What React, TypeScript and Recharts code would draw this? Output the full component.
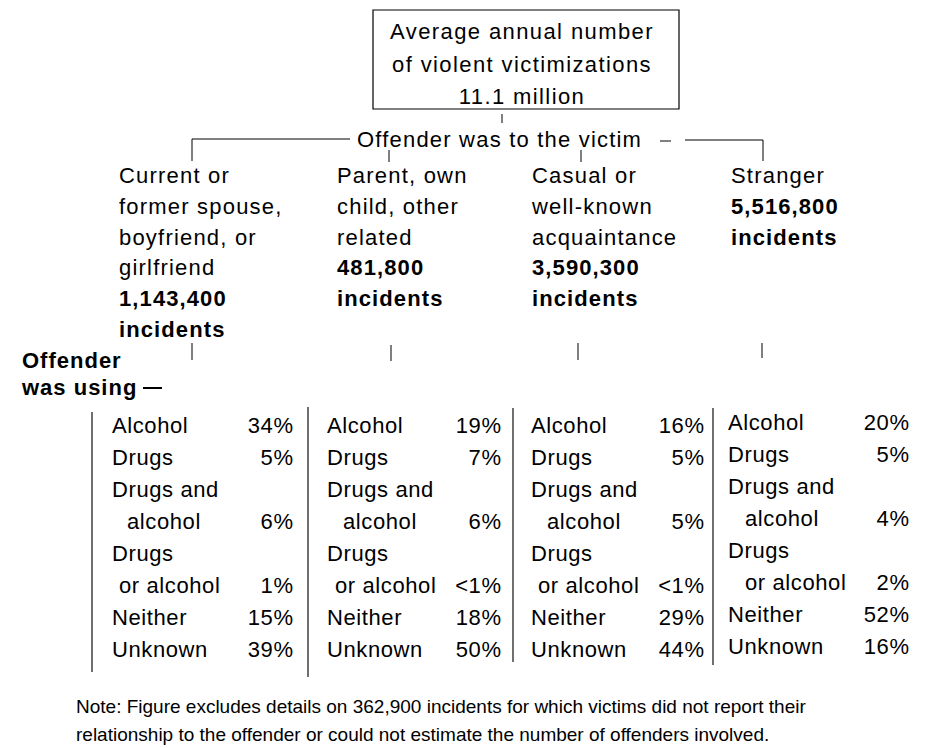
import React from 'react';
import {
  ComposedChart,
  ReferenceArea,
  ReferenceLine,
  Scatter,
  XAxis,
  YAxis,
} from 'recharts';

// ---- content ----
const rootLines = ['Average annual number', 'of violent victimizations', '11.1 million'];
const relationHeading = 'Offender was to the victim';
const relationships = [
  ['Current or', 'former spouse,', 'boyfriend, or', 'girlfriend'],
  ['Parent, own', 'child, other', 'related'],
  ['Casual or', 'well-known', 'acquaintance'],
  ['Stranger'],
];
const incidents = [1143400, 481800, 3590300, 5516800];
const usingHeading = ['Offender', 'was using'];
const substances = [['Alcohol'], ['Drugs'], ['Drugs and', 'alcohol'], ['Drugs', 'or alcohol'], ['Neither'], ['Unknown']];
const spousePct = ['34%', '5%', '6%', '1%', '15%', '39%'];
const relativePct = ['19%', '7%', '6%', '<1%', '18%', '50%'];
const acquaintancePct = ['16%', '5%', '5%', '<1%', '29%', '44%'];
const strangerPct = ['20%', '5%', '4%', '2%', '52%', '16%'];
const noteLines = [
  'Note: Figure excludes details on 362,900 incidents for which victims did not report their',
  'relationship to the offender or could not estimate the number of offenders involved.',
];

// ---- layout ----
const W = 938;
const H = 748;
const FONT = '"Liberation Sans", Arial, sans-serif';
const headX = [119, 337, 532, 731];
const headTop = 183;
const headStep = 30.8;
const tableLabelX = [112, 327, 531, 728];
const tablePctX = [293, 501, 704, 909];
const tableTop = [433, 433, 433, 430];
const tableStep = 32;
const indents = [
  [15, 7],
  [16, 8],
  [16, 7],
  [17, 17],
];
const connectors: [number, number, number, number][] = [
  [502, 114, 502, 123],
  [192, 139, 350, 139],
  [192, 139, 192, 161],
  [685, 140, 763, 140],
  [763, 140, 763, 161],
  [389, 150, 389, 162],
  [581, 150, 581, 162],
  [660, 141, 671, 141],
  [192, 343, 192, 360],
  [391, 345, 391, 361],
  [578, 343, 578, 360],
  [762, 343, 762, 358],
  [143, 388, 162, 388],
];
const tableRules: [number, number, number][] = [
  [92, 412, 672],
  [308, 407, 677],
  [513, 408, 662],
  [713, 408, 665],
];

type TextItem = {
  x: number;
  y: number;
  text: string;
  anchor: 'start' | 'middle' | 'end';
  size: number;
  bold?: boolean;
  ls: number;
};

const items: TextItem[] = [];
rootLines.forEach((t, i) => items.push({ x: 522, y: 39 + i * 32.5, text: t, anchor: 'middle', size: 22, ls: 1.4 }));
items.push({ x: 357, y: 147, text: relationHeading, anchor: 'start', size: 22, ls: 1.2 });
relationships.forEach((lines, c) => {
  lines.forEach((t, i) =>
    items.push({ x: headX[c], y: headTop + i * headStep, text: t, anchor: 'start', size: 22, ls: 1.2 }),
  );
  const n = lines.length;
  items.push({
    x: headX[c],
    y: headTop + n * headStep,
    text: incidents[c].toLocaleString('en-US'),
    anchor: 'start',
    size: 22,
    bold: true,
    ls: 1.1,
  });
  items.push({ x: headX[c], y: headTop + (n + 1) * headStep, text: 'incidents', anchor: 'start', size: 22, bold: true, ls: 1.1 });
});
usingHeading.forEach((t, i) => items.push({ x: 22, y: 368 + i * 27, text: t, anchor: 'start', size: 22, bold: true, ls: 1 }));
[spousePct, relativePct, acquaintancePct, strangerPct].forEach((pcts, c) => {
  let row = 0;
  substances.forEach((lines, s) => {
    lines.forEach((t, i) => {
      const y = tableTop[c] + row * tableStep;
      items.push({ x: tableLabelX[c] + (i > 0 ? indents[c][s === 2 ? 0 : 1] : 0), y, text: t, anchor: 'start', size: 22, ls: 0.6 });
      if (i === lines.length - 1) {
        items.push({ x: tablePctX[c] + 0.6, y, text: pcts[s], anchor: 'end', size: 22, ls: 0.6 });
      }
      row += 1;
    });
  });
});
noteLines.forEach((t, i) => items.push({ x: 76, y: 713 + i * 28, text: t, anchor: 'start', size: 19, ls: 0 }));

const renderText = (props: any) => {
  const { cx, cy, payload } = props;
  return (
    <text
      x={cx}
      y={cy}
      textAnchor={payload.anchor}
      fontSize={payload.size}
      fontWeight={payload.bold ? 700 : 400}
      letterSpacing={payload.ls}
      fontFamily={FONT}
      fill="#000"
    >
      {payload.text}
    </text>
  );
};

export default function App() {
  return (
    <div style={{ position: 'absolute', left: 0, top: 0, width: W, height: H, background: '#fff' }}>
      <ComposedChart width={W} height={H} margin={{ top: 0, right: 0, bottom: 0, left: 0 }}>
        <XAxis type="number" dataKey="x" domain={[0, W]} hide allowDataOverflow />
        <YAxis type="number" dataKey="y" domain={[0, H]} reversed hide allowDataOverflow />
        <ReferenceArea x1={373} x2={679} y1={10} y2={109} fill="none" stroke="#000" strokeWidth={1.2} fillOpacity={0} ifOverflow="visible" />
        {connectors.map(([x1, y1, x2, y2], i) => (
          <ReferenceLine
            key={`c${i}`}
            segment={[{ x: x1, y: y1 }, { x: x2, y: y2 }]}
            stroke="#000"
            strokeWidth={x1 === 143 ? 2 : 1}
            ifOverflow="visible"
          />
        ))}
        {tableRules.map(([x, y1, y2], i) => (
          <ReferenceLine
            key={`r${i}`}
            segment={[{ x, y: y1 }, { x, y: y2 }]}
            stroke="#222"
            strokeWidth={1.3}
            ifOverflow="visible"
          />
        ))}
        <Scatter data={items} shape={renderText} isAnimationActive={false} />
      </ComposedChart>
    </div>
  );
}
